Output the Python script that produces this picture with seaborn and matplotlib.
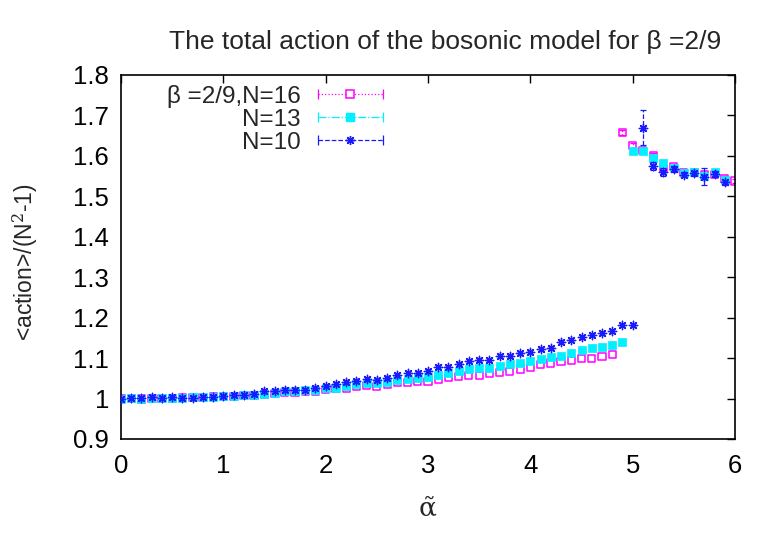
import matplotlib
matplotlib.use("Agg")
import pandas as pd
import matplotlib.pyplot as plt
import seaborn as sns
from matplotlib.lines import Line2D
from matplotlib.legend_handler import HandlerLine2D, HandlerTuple

# alpha-tilde grid of the low (small alpha) branch
alpha_low = [0.0, 0.1, 0.2, 0.3, 0.4, 0.5, 0.6, 0.7, 0.8, 0.9,
             1.0, 1.1, 1.2, 1.3, 1.4, 1.5, 1.6, 1.7, 1.8, 1.9,
             2.0, 2.1, 2.2, 2.3, 2.4, 2.5, 2.6, 2.7, 2.8, 2.9,
             3.0, 3.1, 3.2, 3.3, 3.4, 3.5, 3.6, 3.7, 3.8, 3.9,
             4.0, 4.1, 4.2, 4.3, 4.4, 4.5, 4.6, 4.7, 4.8, 4.9, 5.0]

n10_low = [1.000, 1.001, 1.001, 1.003, 1.001, 1.003, 1.002, 1.002, 1.004, 1.004,
           1.007, 1.008, 1.008, 1.011, 1.018, 1.018, 1.021, 1.020, 1.022, 1.027,
           1.030, 1.035, 1.042, 1.044, 1.049, 1.047, 1.052, 1.059, 1.064, 1.064,
           1.067, 1.077, 1.079, 1.086, 1.092, 1.095, 1.095, 1.104, 1.106, 1.113,
           1.114, 1.123, 1.125, 1.140, 1.146, 1.151, 1.157, 1.161, 1.166, 1.181, 1.183]

n13_low = [1.000, 1.001, 1.000, 1.001, 1.001, 1.002, 1.002, 1.003, 1.004, 1.004,
           1.006, 1.007, 1.008, 1.009, 1.012, 1.014, 1.018, 1.018, 1.020, 1.022,
           1.025, 1.026, 1.030, 1.035, 1.039, 1.039, 1.041, 1.047, 1.049, 1.051,
           1.053, 1.059, 1.063, 1.067, 1.072, 1.076, 1.076, 1.080, 1.086, 1.088,
           1.094, 1.098, 1.103, 1.106, 1.113, 1.119, 1.125, 1.128, 1.132, 1.141]

n16_low = [1.000, 1.000, 0.999, 1.000, 1.001, 1.001, 1.002, 1.002, 1.003, 1.004,
           1.005, 1.006, 1.007, 1.008, 1.010, 1.012, 1.014, 1.014, 1.017, 1.018,
           1.022, 1.024, 1.026, 1.030, 1.032, 1.030, 1.035, 1.039, 1.040, 1.043,
           1.043, 1.047, 1.051, 1.055, 1.057, 1.057, 1.063, 1.065, 1.067, 1.073,
           1.077, 1.084, 1.088, 1.092, 1.095, 1.098, 1.100, 1.103, 1.109]

# high branch (after the jump near alpha ~ 5)
alpha_hi16 = [4.9, 5.0, 5.1, 5.2, 5.3, 5.4, 5.5, 5.6, 5.7, 5.8, 5.9, 6.0]
n16_hi = [1.657, 1.625, 1.613, 1.602, 1.569, 1.573, 1.560, 1.560, 1.553, 1.555, 1.545, 1.538]
n16_hi_err = [0.006, 0.006, 0.005, 0.006, 0.005, 0.005, 0.005, 0.005, 0.005, 0.005, 0.006, 0.006]

alpha_hi13 = [5.0, 5.1, 5.2, 5.3, 5.4, 5.5, 5.6, 5.7, 5.8, 5.9]
n13_hi = [1.612, 1.612, 1.594, 1.583, 1.571, 1.557, 1.559, 1.551, 1.559, 1.540]
n13_hi_err = [0.004, 0.004, 0.004, 0.004, 0.004, 0.004, 0.004, 0.004, 0.004, 0.004]

alpha_hi10 = [5.1, 5.2, 5.3, 5.4, 5.5, 5.6, 5.7, 5.8, 5.9]
n10_hi = [1.670, 1.576, 1.560, 1.568, 1.553, 1.557, 1.549, 1.555, 1.535]
n10_hi_err = [0.043, 0.010, 0.010, 0.008, 0.006, 0.006, 0.020, 0.008, 0.006]

labels = ["\u03b2 =2/9,N=16", "N=13", "N=10"]
colors = ["#ff00ff", "#00f0ff", "#1a1aff"]

sns.set_theme(style="white")
plt.rcParams["font.family"] = ["Liberation Sans", "DejaVu Sans"]
plt.rcParams["mathtext.fontset"] = "dejavuserif"

fig = plt.figure(figsize=(7.78, 5.45), dpi=100)
ax = fig.add_axes([121 / 778, 1 - 439 / 545, 614 / 778, 364 / 545])

series = [
    (alpha_low[:49], n16_low, alpha_hi16, n16_hi, n16_hi_err),
    (alpha_low[:50], n13_low, alpha_hi13, n13_hi, n13_hi_err),
    (alpha_low, n10_low, alpha_hi10, n10_hi, n10_hi_err),
]
styles = [":", "-.", "--"]

for i, (xl, yl, xh, yh, eh) in enumerate(series):
    df = pd.DataFrame({"alpha": list(xl) + xh, "action": list(yl) + yh})
    col = colors[i]
    eb = ax.errorbar(xh, yh, yerr=eh, fmt="none", ecolor=col, elinewidth=0.9,
                     capsize=2.5, capthick=0.9, zorder=2 + i)
    eb.lines[2][0].set_linestyle(styles[i])
    if i == 0:
        sns.scatterplot(data=df, x="alpha", y="action", marker="s", s=26,
                        facecolor="none", edgecolor=col, linewidth=1.1,
                        ax=ax, zorder=2 + i)
    elif i == 1:
        sns.scatterplot(data=df, x="alpha", y="action", marker="s", s=26,
                        color=col, edgecolor=col, linewidth=0.5,
                        ax=ax, zorder=2 + i)
    else:
        sns.scatterplot(data=df, x="alpha", y="action", marker=(8, 2, 0), s=36,
                        color=col, edgecolor=col, linewidth=1.0,
                        ax=ax, zorder=2 + i)

ax.set_xlim(0, 6)
ax.set_ylim(0.9, 1.8)
ax.set_xticks([0, 1, 2, 3, 4, 5, 6])
ax.set_yticks([0.9, 1.0, 1.1, 1.2, 1.3, 1.4, 1.5, 1.6, 1.7, 1.8])
ax.set_yticklabels(["0.9", "1", "1.1", "1.2", "1.3", "1.4", "1.5", "1.6", "1.7", "1.8"])
ax.tick_params(direction="in", top=True, right=True, length=6, width=1,
               labelsize=18.5, colors="black")
ax.tick_params(axis="x", pad=11)
ax.tick_params(axis="y", pad=8.5)
for sp in ax.spines.values():
    sp.set_color("black")
    sp.set_linewidth(1.2)

ax.set_xlabel(r"$\tilde{\mathrm{\alpha}}$", fontsize=19)
ax.xaxis.set_label_coords(0.5, -0.158)
ax.set_ylabel("<action>/(N$^2$-1)", fontsize=16.5)
ax.yaxis.set_label_coords(-0.130, 0.486)

fig.text(445 / 778, 1 - 42 / 545, "The total action of the bosonic model for \u03b2 =2/9",
         ha="center", va="center", fontsize=19)

# gnuplot-like key: right aligned text, errorbar sample with caps
handles = []
hmap = {}
for i in range(3):
    bar = Line2D([], [], color=colors[i], linestyle=styles[i], linewidth=0.9,
                 marker="|", markersize=7, markeredgewidth=0.9)
    if i == 0:
        mk = Line2D([], [], linestyle="none", marker="s", markersize=6,
                    markerfacecolor="white", markeredgecolor=colors[i], markeredgewidth=1.1)
    elif i == 1:
        mk = Line2D([], [], linestyle="none", marker="s", markersize=6, color=colors[i])
    else:
        mk = Line2D([], [], linestyle="none", marker=(8, 2, 0), markersize=6.5,
                    color=colors[i], markeredgewidth=1.0)
    hmap[bar] = HandlerLine2D(numpoints=2, marker_pad=0)
    hmap[mk] = HandlerLine2D(numpoints=1)
    handles.append((bar, mk))

leg = ax.legend(handles, labels, loc="upper right", bbox_to_anchor=(0.427, 0.973),
                markerfirst=False, frameon=False, fontsize=17.5, handlelength=2.7,
                handletextpad=0.7, labelspacing=0.04, borderpad=0, borderaxespad=0,
                handler_map={tuple: HandlerTuple(ndivide=1), **hmap})

fig.savefig("out.png", dpi=100)
